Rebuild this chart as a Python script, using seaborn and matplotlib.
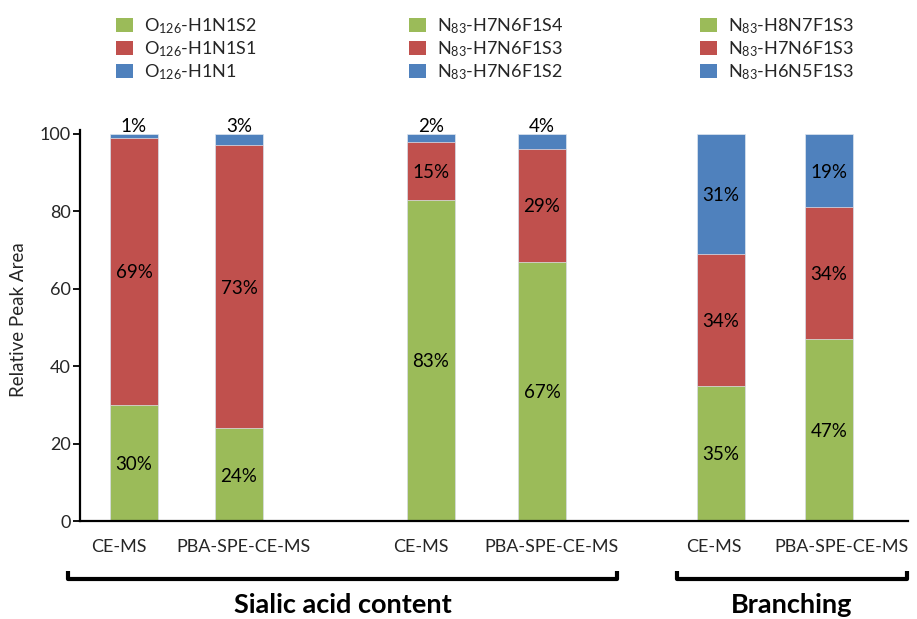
import matplotlib
matplotlib.use("Agg")
import matplotlib.pyplot as plt
from matplotlib.patches import Patch
from matplotlib.lines import Line2D
import seaborn as sns
import pandas as pd

# ---- data -------------------------------------------------------------
methods = ["CE-MS", "PBA-SPE-CE-MS", "CE-MS", "PBA-SPE-CE-MS", "CE-MS", "PBA-SPE-CE-MS"]
lower_pct = [30, 24, 83, 67, 35, 47]    # green segment
middle_pct = [69, 73, 15, 29, 34, 34]   # red segment
upper_pct = [1, 3, 2, 4, 31, 19]        # blue segment

legend_o126 = ["O$_{126}$-H1N1S2", "O$_{126}$-H1N1S1", "O$_{126}$-H1N1"]
legend_n83_sialic = ["N$_{83}$-H7N6F1S4", "N$_{83}$-H7N6F1S3", "N$_{83}$-H7N6F1S2"]
legend_n83_branch = ["N$_{83}$-H8N7F1S3", "N$_{83}$-H7N6F1S3", "N$_{83}$-H6N5F1S3"]

group_names = ["Sialic acid content", "Branching"]
y_ticks = [0, 20, 40, 60, 80, 100]
y_label = "Relative Peak Area"

# ---- layout (x axis measured in figure pixels) ------------------------
W, H = 917, 619
bar_x = [134, 239, 431, 542, 721, 829]
label_x = [119, 243, 421, 552, 714, 842]
bar_width_px = 48

GREEN, RED, BLUE = "#9BBB59", "#C0504D", "#4F81BD"

sns.set_theme(style="ticks")
plt.rcParams["font.family"] = ["Lato", "DejaVu Sans"]
plt.rcParams["mathtext.default"] = "regular"

fig = plt.figure(figsize=(W / 100, H / 100), dpi=100)
ax_left, ax_right = 80, 908
ax_bottom, ax_top = 521, 130
ax = fig.add_axes([ax_left / W, (H - ax_bottom) / H,
                   (ax_right - ax_left) / W, (ax_bottom - ax_top) / H])


def fx(px):
    return px / W


def fy(py):
    return (H - py) / H


df = pd.DataFrame({
    "pos": bar_x,
    "low": lower_pct,
    "mid": [a + b for a, b in zip(lower_pct, middle_pct)],
    "top": [a + b + c for a, b, c in zip(lower_pct, middle_pct, upper_pct)],
})

min_gap = min(b - a for a, b in zip(sorted(bar_x), sorted(bar_x)[1:]))
rel_width = bar_width_px / min_gap

# stacked bars: draw cumulative totals from the top segment down
for col, color in [("top", BLUE), ("mid", RED), ("low", GREEN)]:
    sns.barplot(data=df, x="pos", y=col, native_scale=True, orient="x",
                color=color, saturation=1, width=rel_width, errorbar=None,
                edgecolor="#dfe6ef", linewidth=0.5, ax=ax)

label_fs = 13.5
tick_fs = 13
for i, x in enumerate(bar_x):
    segs = [(lower_pct[i], 0), (middle_pct[i], lower_pct[i]),
            (upper_pct[i], lower_pct[i] + middle_pct[i])]
    for j, (v, base) in enumerate(segs):
        if j == 2 and v < 5:
            ax.annotate(f"{v}%", (x, base + v), xytext=(0, 1.5),
                        textcoords="offset points", ha="center", va="baseline",
                        fontsize=label_fs, color="black", annotation_clip=False)
        else:
            ax.text(x, base + v / 2, f"{v}%", ha="center", va="center_baseline",
                    fontsize=label_fs, color="black")

ax.set_xlim(ax_left, ax_right)
ax.set_ylim(0, 101)
ax.set_yticks(y_ticks)
ax.set_yticklabels([str(t) for t in y_ticks], fontsize=tick_fs)
ax.set_xticks(label_x)
ax.set_xticklabels(methods, fontsize=tick_fs)
ax.tick_params(axis="x", length=0, pad=13)
ax.tick_params(axis="y", length=5, width=1.3, direction="out", pad=1.5, color="black")
ax.set_xlabel("")
ax.set_ylabel(y_label, fontsize=13.5, va="center")
ax.yaxis.set_label_coords((19 - ax_left) / (ax_right - ax_left),
                          (ax_bottom - 320) / (ax_bottom - ax_top))
for side in ("top", "right"):
    ax.spines[side].set_visible(False)
for side in ("left", "bottom"):
    ax.spines[side].set_color("black")
    ax.spines[side].set_linewidth(1.6)
ax.grid(False)

# ---- legends ----------------------------------------------------------
leg_fs = 13
leg_px = leg_fs * 100 / 72
for labels, x0 in [(legend_o126, 116), (legend_n83_sialic, 409), (legend_n83_branch, 700)]:
    handles = [Patch(facecolor=c, edgecolor="none") for c in (GREEN, RED, BLUE)]
    fig.legend(handles, labels, loc="upper left",
               bbox_to_anchor=(fx(x0), fy(16)), bbox_transform=fig.transFigure,
               frameon=False, fontsize=leg_fs, borderpad=0, borderaxespad=0,
               handlelength=17 / leg_px, handleheight=15 / leg_px,
               handletextpad=11 / leg_px, labelspacing=0.2)

# ---- group brackets ---------------------------------------------------
for (x0, x1) in [(68, 617), (677, 907)]:
    fig.add_artist(Line2D([fx(x0), fx(x0), fx(x1), fx(x1)],
                          [fy(571), fy(579), fy(579), fy(571)],
                          transform=fig.transFigure, color="black", lw=3,
                          solid_joinstyle="round", solid_capstyle="butt"))

for name, cx in zip(group_names, [343, 792]):
    fig.text(fx(cx), fy(613), name, ha="center", va="baseline",
             fontsize=19.5, fontweight="bold", color="black")

fig.savefig("out.png", dpi=100)
